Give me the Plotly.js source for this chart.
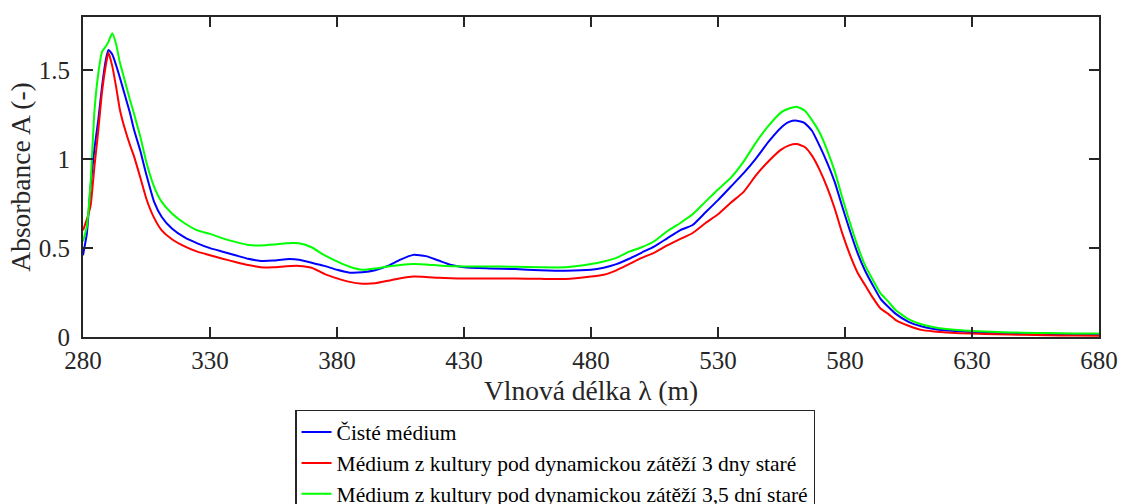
<!DOCTYPE html>
<html>
<head>
<meta charset="utf-8">
<script src="https://cdn.plot.ly/plotly-3.0.1.min.js"></script>
<style>html,body{margin:0;padding:0;background:#fff;overflow:hidden;}#chart{width:1123px;height:560px;}</style>
</head>
<body>
<div id="chart"></div>
<script>
const wavelength = [280, 281.5, 283, 284.5, 286, 287.5, 289, 290, 291.5, 293, 294.5, 296.5, 298.5, 300, 302.5, 305, 308, 311, 315, 320, 325, 330, 335, 340, 345, 350, 355, 360, 365, 370, 375, 380, 385, 390, 395, 400, 405, 410, 415, 420, 425, 430, 440, 450, 460, 470, 480, 485, 490, 495, 500, 505, 510, 515, 520, 525, 530, 535, 540, 545, 550, 555, 558, 561, 564, 567, 570, 573, 576, 579, 582, 585, 588, 591, 594, 597, 600, 605, 610, 615, 620, 630, 640, 650, 660, 670, 680];

const cisteMedium = [0.46, 0.58, 0.85, 1.06, 1.22, 1.41, 1.56, 1.615, 1.59, 1.53, 1.46, 1.36, 1.26, 1.17, 1.05, 0.91, 0.76, 0.675, 0.61, 0.56, 0.527, 0.50, 0.48, 0.46, 0.44, 0.428, 0.43, 0.438, 0.435, 0.418, 0.40, 0.378, 0.362, 0.364, 0.375, 0.40, 0.435, 0.462, 0.455, 0.43, 0.405, 0.392, 0.386, 0.382, 0.376, 0.373, 0.378, 0.39, 0.41, 0.44, 0.475, 0.51, 0.555, 0.60, 0.63, 0.70, 0.77, 0.845, 0.92, 1.005, 1.10, 1.18, 1.21, 1.217, 1.205, 1.16, 1.075, 0.98, 0.87, 0.73, 0.595, 0.47, 0.37, 0.29, 0.215, 0.17, 0.13, 0.085, 0.06, 0.045, 0.037, 0.027, 0.022, 0.019, 0.017, 0.015, 0.013];

const medium3dny = [0.60, 0.66, 0.74, 0.96, 1.16, 1.38, 1.53, 1.60, 1.525, 1.41, 1.28, 1.17, 1.08, 1.02, 0.90, 0.775, 0.67, 0.60, 0.55, 0.51, 0.48, 0.46, 0.44, 0.422, 0.405, 0.393, 0.392, 0.398, 0.40, 0.39, 0.355, 0.33, 0.31, 0.30, 0.302, 0.316, 0.33, 0.34, 0.338, 0.333, 0.33, 0.329, 0.329, 0.329, 0.327, 0.326, 0.34, 0.35, 0.375, 0.41, 0.445, 0.475, 0.515, 0.55, 0.585, 0.64, 0.69, 0.755, 0.815, 0.91, 0.99, 1.055, 1.078, 1.085, 1.07, 1.02, 0.94, 0.84, 0.72, 0.58, 0.46, 0.36, 0.29, 0.22, 0.16, 0.13, 0.095, 0.063, 0.04, 0.031, 0.025, 0.019, 0.015, 0.012, 0.010, 0.008, 0.007];

const medium35dni = [0.537, 0.62, 0.87, 1.27, 1.48, 1.605, 1.635, 1.66, 1.708, 1.65, 1.545, 1.44, 1.333, 1.26, 1.13, 0.98, 0.845, 0.76, 0.695, 0.64, 0.60, 0.58, 0.555, 0.535, 0.518, 0.515, 0.52, 0.528, 0.527, 0.505, 0.46, 0.425, 0.395, 0.378, 0.385, 0.397, 0.405, 0.41, 0.408, 0.402, 0.398, 0.397, 0.397, 0.395, 0.392, 0.392, 0.41, 0.425, 0.445, 0.48, 0.505, 0.54, 0.595, 0.64, 0.69, 0.76, 0.83, 0.895, 0.985, 1.095, 1.19, 1.265, 1.285, 1.295, 1.275, 1.22, 1.15, 1.05, 0.93, 0.78, 0.64, 0.51, 0.40, 0.32, 0.245, 0.20, 0.15, 0.10, 0.072, 0.055, 0.045, 0.034, 0.028, 0.024, 0.022, 0.020, 0.019];

const seriesNames = ["Čisté médium", "Médium z kultury pod dynamickou zátěží 3 dny staré", "Médium z kultury pod dynamickou zátěží 3,5 dní staré"];
const seriesColors = ["#0000ff", "#ff0000", "#00ff00"];
const xTicks = [280, 330, 380, 430, 480, 530, 580, 630, 680];
const yTicks = [0, 0.5, 1, 1.5];
const yTickText = ["0", "0.5", "1", "1.5"];

const FONT = "Liberation Serif";
const AX = "#262626";
const seriesValues = [cisteMedium, medium3dny, medium35dni];

const traces = seriesValues.map((v, i) => ({
  x: wavelength, y: v, type: "scatter", mode: "lines",
  name: seriesNames[i],
  line: {color: seriesColors[i], width: 2, shape: "spline", smoothing: 0.5}
}));

const axisCommon = {
  showline: true, linecolor: AX, linewidth: 2, mirror: "ticks",
  ticks: "inside", ticklen: 10, tickwidth: 2, tickcolor: AX,
  showgrid: false, zeroline: false,
  tickfont: {family: FONT, size: 25, color: AX}
};

const layout = {
  width: 1123, height: 560,
  margin: {l: 83, r: 24, t: 17, b: 223, pad: 0},
  paper_bgcolor: "#ffffff", plot_bgcolor: "#ffffff",
  font: {family: FONT, color: AX},
  showlegend: true,
  xaxis: Object.assign({}, axisCommon, {
    range: [280, 680], tickvals: xTicks, ticktext: xTicks.map(String),
    title: {text: "Vlnová délka λ (m)", font: {family: FONT, size: 27.5, color: AX}, standoff: 8}
  }),
  yaxis: Object.assign({}, axisCommon, {
    range: [0, 1.8], tickvals: yTicks, ticktext: yTickText,
    ticklabelstandoff: 6,
    title: {text: "Absorbance A (-)", font: {family: FONT, size: 27.5, color: AX}, standoff: 0}
  }),
  legend: {
    x: 0.2087, y: -0.228, xanchor: "left", yanchor: "top",
    bgcolor: "#ffffff", bordercolor: AX, borderwidth: 1.5,
    font: {family: FONT, size: 21.5, color: "#000000"},
    tracegroupgap: 0, itemwidth: 30
  }
};

Plotly.newPlot("chart", traces, layout, {displayModeBar: false, staticPlot: true});
</script>
</body>
</html>
